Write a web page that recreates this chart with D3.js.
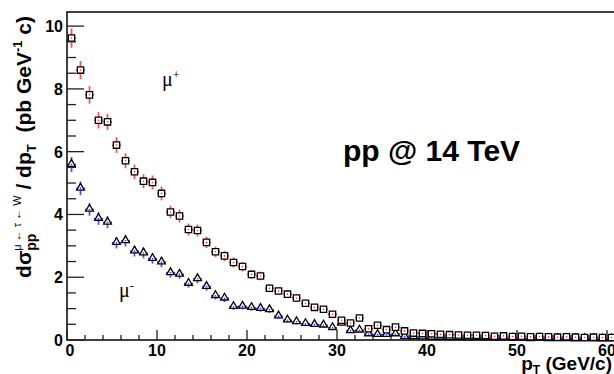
<!DOCTYPE html>
<html>
<head>
    <meta charset="utf-8">
    <title>mu from tau from W, pp @ 14 TeV</title>
    <style>
        body { margin: 0; background: #fff; }
        text { font-family: "Liberation Sans", Arial, sans-serif; }
    </style>
</head>
<body>
<script src="https://d3js.org/d3.v7.min.js"></script>
<script>
// bin centres, 1 GeV/c bins
var ptBins = d3.range(0.5, 61, 1);

// mu+ (open squares, red errors)
var muPlus = [9.62, 8.60, 7.81, 7.00, 6.95, 6.21, 5.71, 5.36, 5.06, 5.02,
    4.67, 4.08, 3.95, 3.52, 3.49, 3.11, 2.81, 2.68, 2.47, 2.34,
    2.09, 2.04, 1.65, 1.56, 1.46, 1.34, 1.17, 1.04, 0.98, 0.82,
    0.63, 0.54, 0.70, 0.36, 0.47, 0.33, 0.41, 0.29, 0.22, 0.21,
    0.20, 0.18, 0.17, 0.16, 0.15, 0.15, 0.14, 0.12, 0.13, 0.11,
    0.12, 0.10, 0.11, 0.10, 0.09, 0.10, 0.09, 0.08, 0.09, 0.08, 0.08];
var muPlusErr = [0.31, 0.29, 0.28, 0.26, 0.26, 0.25, 0.24, 0.23, 0.22, 0.22,
    0.22, 0.20, 0.20, 0.19, 0.19, 0.18, 0.17, 0.16, 0.16, 0.15,
    0.14, 0.14, 0.13, 0.12, 0.12, 0.12, 0.11, 0.10, 0.10, 0.09,
    0.08, 0.07, 0.08, 0.06, 0.07, 0.06, 0.06, 0.05, 0.05, 0.05,
    0.04, 0.04, 0.04, 0.04, 0.04, 0.04, 0.04, 0.03, 0.04, 0.03,
    0.03, 0.03, 0.03, 0.03, 0.03, 0.03, 0.03, 0.03, 0.03, 0.03, 0.03];

// mu- (open triangles, blue errors)
var muMinus = [5.59, 4.83, 4.16, 3.87, 3.75, 3.10, 3.16, 2.83, 2.77, 2.59,
    2.48, 2.14, 2.09, 1.80, 1.95, 1.70, 1.41, 1.33, 1.06, 1.07,
    1.03, 1.00, 0.96, 0.76, 0.63, 0.58, 0.52, 0.49, 0.47, 0.39,
    0.53, 0.29, 0.31, 0.19, 0.17, 0.17, 0.19, 0.11, 0.10, 0.09,
    0.08, 0.08, 0.07, 0.07, 0.06, 0.07, 0.06, 0.05, 0.06, 0.05,
    0.05, 0.04, 0.05, 0.04, 0.04, 0.04, 0.03, 0.04, 0.03, 0.03, 0.03];
var muMinusErr = [0.24, 0.22, 0.20, 0.20, 0.19, 0.18, 0.18, 0.17, 0.17, 0.16,
    0.16, 0.15, 0.14, 0.13, 0.14, 0.13, 0.12, 0.12, 0.10, 0.10,
    0.10, 0.10, 0.10, 0.09, 0.08, 0.08, 0.07, 0.07, 0.07, 0.06,
    0.07, 0.05, 0.06, 0.04, 0.04, 0.04, 0.04, 0.03, 0.03, 0.03,
    0.03, 0.03, 0.03, 0.03, 0.03, 0.03, 0.03, 0.03, 0.03, 0.03,
    0.03, 0.03, 0.03, 0.03, 0.03, 0.03, 0.03, 0.03, 0.03, 0.03, 0.03];

var xTicks = [0, 10, 20, 30, 40, 50, 60];
var yTicks = [0, 2, 4, 6, 8, 10];

const width = 614, height = 374;
const padLeft = 67, padTop = 12, axisBottom = 340;

var svg = d3.select("body").append("svg")
    .attr("width", width)
    .attr("height", height);

var x = d3.scaleLinear().domain([0, 61]).range([padLeft, padLeft + 61 * 9]);
var y = d3.scaleLinear().domain([0, 10.45]).range([axisBottom, padTop]);

// frame
svg.append("rect")
    .attr("x", padLeft).attr("y", padTop)
    .attr("width", x(61) - padLeft).attr("height", axisBottom - padTop)
    .attr("fill", "none").attr("stroke", "#111").attr("stroke-width", 1.6);

// y ticks (inside)
var yMinor = d3.range(0, 10.5, 0.5);
svg.append("g").selectAll("line").data(yMinor).enter().append("line")
    .attr("x1", padLeft)
    .attr("x2", function(d) { return padLeft + (d % 2 === 0 ? 17 : 9); })
    .attr("y1", function(d) { return y(d); })
    .attr("y2", function(d) { return y(d); })
    .attr("stroke", "#222").attr("stroke-width", 1.3);

svg.append("g").selectAll("text").data(yTicks).enter().append("text")
    .attr("x", 63)
    .attr("y", function(d) { return y(d) + 6; })
    .attr("text-anchor", "end")
    .attr("font-size", 16).attr("font-weight", "bold")
    .text(function(d) { return d; });

// x ticks (inside)
var xMinor = d3.range(0, 62, 2);
svg.append("g").selectAll("line").data(xMinor).enter().append("line")
    .attr("x1", function(d) { return x(d); })
    .attr("x2", function(d) { return x(d); })
    .attr("y1", axisBottom)
    .attr("y2", function(d) { return axisBottom - (d % 10 === 0 ? 10 : 5); })
    .attr("stroke", "#222").attr("stroke-width", 1.3);

svg.append("g").selectAll("text").data(xTicks).enter().append("text")
    .attr("x", function(d) { return x(d) + (d === 0 ? 3 : 0); })
    .attr("y", 356)
    .attr("text-anchor", "middle")
    .attr("font-size", 16).attr("font-weight", "bold")
    .text(function(d) { return d; });

// data
function drawSeries(vals, errs, colour, shape) {
    var pts = vals.map(function(v, i) { return { x: ptBins[i], v: v, e: errs[i] }; });
    var g = svg.append("g");
    // horizontal error (bin width)
    g.selectAll(".h").data(pts).enter().append("line")
        .attr("x1", function(d) { return x(d.x - 0.5); })
        .attr("x2", function(d) { return x(d.x + 0.5); })
        .attr("y1", function(d) { return y(d.v); })
        .attr("y2", function(d) { return y(d.v); })
        .attr("stroke", colour).attr("stroke-width", 1.4);
    g.selectAll(".v").data(pts).enter().append("line")
        .attr("x1", function(d) { return x(d.x); })
        .attr("x2", function(d) { return x(d.x); })
        .attr("y1", function(d) { return y(d.v - d.e); })
        .attr("y2", function(d) { return y(d.v + d.e); })
        .attr("stroke", colour).attr("stroke-width", 1.8).attr("opacity", 0.8);
    var sym = d3.symbol().type(shape).size(shape === d3.symbolSquare ? 40 : 26);
    g.selectAll("path").data(pts).enter().append("path")
        .attr("transform", function(d) {
            return "translate(" + x(d.x) + "," + (y(d.v) + (shape === d3.symbolTriangle ? -0.5 : 0)) + ")";
        })
        .attr("d", sym)
        .attr("fill", "#fff").attr("stroke", "#000").attr("stroke-width", 1.3);
    g.selectAll(".c").data(pts).enter().append("circle")
        .attr("cx", function(d) { return x(d.x); })
        .attr("cy", function(d) { return y(d.v); })
        .attr("r", 0.8).attr("fill", colour);
}
drawSeries(muMinus, muMinusErr, "#2a2aff", d3.symbolTriangle);
drawSeries(muPlus, muPlusErr, "#ff2a2a", d3.symbolSquare);

// labels
svg.append("text").attr("x", 343).attr("y", 161)
    .attr("font-size", 30).attr("font-weight", "bold").text("pp @ 14 TeV");

var mp = svg.append("text").attr("x", 162).attr("y", 86)
    .style("font-family", "'Liberation Serif', 'Times New Roman', serif")
    .attr("font-size", 20);
mp.append("tspan").text("\u03bc");
mp.append("tspan").attr("font-size", 12).attr("dy", -7).text("+");

var mm = svg.append("text").attr("x", 119).attr("y", 297)
    .style("font-family", "'Liberation Serif', 'Times New Roman', serif")
    .attr("font-size", 20);
mm.append("tspan").text("\u03bc");
mm.append("tspan").attr("font-size", 12).attr("dy", -7).text("-");

// x title
var xt = svg.append("text").attr("x", 612).attr("y", 370)
    .attr("text-anchor", "end").attr("font-size", 19).attr("font-weight", "bold");
xt.append("tspan").text("p");
xt.append("tspan").attr("font-size", 12).attr("dy", 4).text("T");
xt.append("tspan").attr("dy", -4).text(" (GeV/c)");

// y title, built piece by piece along the rotated axis
var yt = svg.append("g");
var pieces = [
    { t: "d\u03c3", fs: 21, dy: 0, bold: true },
    { t: "\u03bc \u2190 \u03c4 \u2190 W", fs: 11, dy: -10, bold: false, stackWith: { t: "pp", fs: 14, dy: 5, bold: true } },
    { t: " / dp", fs: 21, dy: 0, bold: true },
    { t: "T", fs: 13, dy: 5, bold: true },
    { t: "  (pb GeV", fs: 21, dy: 0, bold: true },
    { t: "-1", fs: 13, dy: -9, bold: true },
    { t: " c)", fs: 21, dy: 0, bold: true }
];
var pos = 0;
function addPiece(p, at) {
    var el = yt.append("text")
        .attr("x", at).attr("y", p.dy)
        .attr("font-size", p.fs)
        .attr("font-weight", p.bold ? "bold" : "normal")
        .style("white-space", "pre")
        .text(p.t);
    return el.node().getComputedTextLength();
}
pieces.forEach(function(p) {
    var w = addPiece(p, pos);
    if (p.stackWith) w = Math.max(w, addPiece(p.stackWith, pos));
    pos += w;
});
yt.attr("transform", "translate(31," + (16 + pos) + ") rotate(-90)");
</script>
</body>
</html>
